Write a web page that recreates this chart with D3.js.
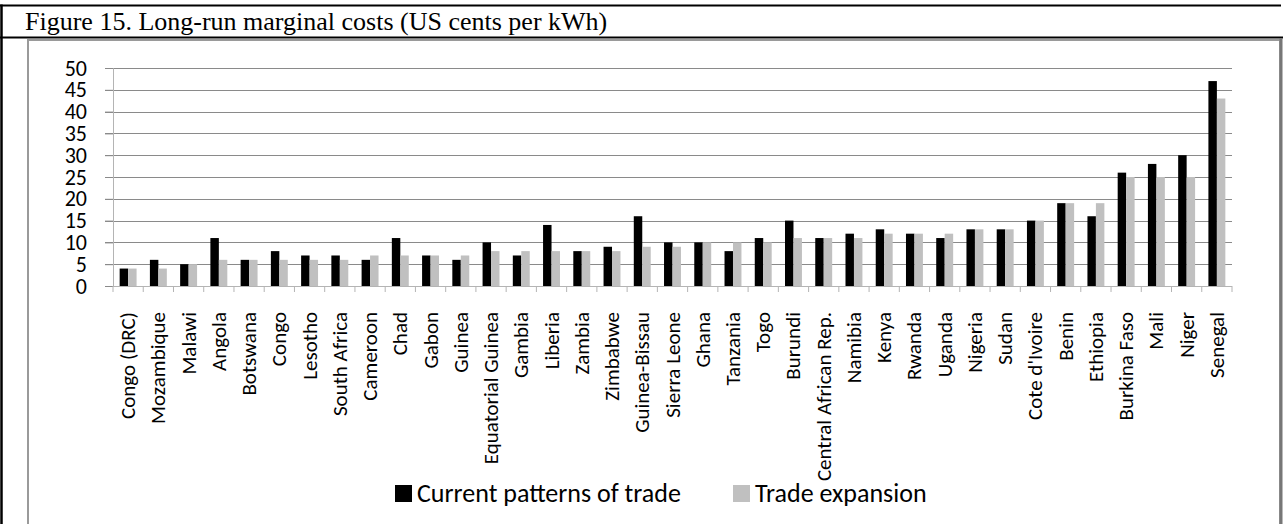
<!DOCTYPE html>
<html>
<head>
<meta charset="utf-8">
<script src="https://cdn.jsdelivr.net/npm/d3@7"></script>
<style>
  html, body { margin: 0; padding: 0; background: #fff; }
  svg { display: block; }
</style>
</head>
<body>
<div id="chart"></div>
<script>
const countries = ["Congo (DRC)", "Mozambique", "Malawi", "Angola", "Botswana", "Congo", "Lesotho",
  "South Africa", "Cameroon", "Chad", "Gabon", "Guinea", "Equatorial Guinea", "Gambia", "Liberia",
  "Zambia", "Zimbabwe", "Guinea-Bissau", "Sierra Leone", "Ghana", "Tanzania", "Togo", "Burundi",
  "Central African Rep.", "Namibia", "Kenya", "Rwanda", "Uganda", "Nigeria", "Sudan", "Cote d'Ivoire",
  "Benin", "Ethiopia", "Burkina Faso", "Mali", "Niger", "Senegal"];
const currentTrade = [4, 6, 5, 11, 6, 8, 7, 7, 6, 11, 7, 6, 10, 7, 14, 8, 9, 16, 10, 10, 8, 11, 15,
  11, 12, 13, 12, 11, 13, 13, 15, 19, 16, 26, 28, 30, 47];
const tradeExpansion = [4, 4, 5, 6, 6, 6, 6, 6, 7, 7, 7, 7, 8, 8, 8, 8, 8, 9, 9, 10, 10, 10, 11,
  11, 11, 12, 12, 12, 13, 13, 15, 19, 19, 25, 25, 25, 43];
const seriesNames = ["Current patterns of trade", "Trade expansion"];
const yTicks = [0, 5, 10, 15, 20, 25, 30, 35, 40, 45, 50];

const W = 1286, H = 524;
const colors = ["#000000", "#c0c0c0"];
const calibri = "Carlito, Calibri, Lato, sans-serif";

const svg = d3.select("#chart").append("svg").attr("width", W).attr("height", H);

// table frame + title row
svg.append("line").attr("x1", 1.5).attr("x2", 1.5).attr("y1", 4.5).attr("y2", H).attr("stroke", "#000").attr("stroke-width", 2.5);
svg.append("line").attr("x1", 0).attr("x2", 1281).attr("y1", 5.5).attr("y2", 5.5).attr("stroke", "#000").attr("stroke-width", 2);
svg.append("line").attr("x1", 0).attr("x2", 1283).attr("y1", 37.5).attr("y2", 37.5).attr("stroke", "#000").attr("stroke-width", 2);
svg.append("text").attr("x", 25).attr("y", 30)
  .style("font-family", "'Liberation Serif', 'Times New Roman', serif").style("font-size", "26px")
  .text("Figure 15. Long-run marginal costs (US cents per kWh)");

// chart area frame
svg.append("rect").attr("x", 28).attr("y", 40).attr("width", 1252).attr("height", 500)
  .attr("fill", "none").attr("stroke", "#9a9a9a").attr("stroke-width", 2);
svg.append("line").attr("x1", 1281).attr("x2", 1281).attr("y1", 38).attr("y2", H).attr("stroke", "#777").attr("stroke-width", 3);

const margin = { left: 113, right: 1232, top: 68, bottom: 286 };

const x = d3.scaleBand().domain(countries).range([margin.left, margin.right]).paddingInner(0.44).paddingOuter(0.22);
const xFull = d3.scaleBand().domain(countries).range([margin.left, margin.right]);
const xSub = d3.scaleBand().domain(seriesNames).range([0, x.bandwidth()]);
const y = d3.scaleLinear().domain([0, 50]).range([margin.bottom, margin.top]);

// gridlines
svg.append("g").selectAll("line").data(yTicks.slice(1)).join("line")
  .attr("x1", margin.left - 8).attr("x2", margin.right)
  .attr("y1", d => Math.round(y(d)) + 0.5).attr("y2", d => Math.round(y(d)) + 0.5)
  .attr("stroke", "#8a8a8a").attr("stroke-width", 1);

// y axis
const yAxis = svg.append("g").attr("transform", `translate(${margin.left},0)`)
  .call(d3.axisLeft(y).tickValues(yTicks).tickSize(8).tickPadding(18));
yAxis.select(".domain").attr("stroke", "#b4b4b4");
yAxis.selectAll(".tick line").attr("stroke", "#8a8a8a");
yAxis.selectAll(".tick text").style("font-family", calibri).style("font-size", "22px").attr("fill", "#000");

// bars
const series = [currentTrade, tradeExpansion];
series.forEach((vals, si) => {
  svg.append("g").selectAll("rect").data(countries).join("rect")
    .attr("x", d => x(d) + xSub(seriesNames[si]))
    .attr("width", xSub.bandwidth())
    .attr("y", (d, i) => y(vals[i]))
    .attr("height", (d, i) => y(0) - y(vals[i]))
    .attr("fill", colors[si]);
});

// x axis
const xAxis = svg.append("g").attr("transform", `translate(0,${margin.bottom})`);
xAxis.append("line").attr("x1", margin.left).attr("x2", margin.right).attr("y1", 0.5).attr("y2", 0.5).attr("stroke", "#b4b4b4");
xAxis.selectAll("line.tk").data(d3.range(countries.length + 1)).join("line")
  .attr("class", "tk")
  .attr("x1", i => (i < countries.length ? xFull(countries[i]) : margin.right))
  .attr("x2", i => (i < countries.length ? xFull(countries[i]) : margin.right))
  .attr("y1", 0).attr("y2", 6).attr("stroke", "#b4b4b4");
xAxis.selectAll("text").data(countries).join("text")
  .attr("transform", d => `translate(${xFull(d) + xFull.bandwidth() / 2 + 7},26) rotate(-90)`)
  .attr("text-anchor", "end")
  .style("font-family", calibri).style("font-size", "21px")
  .text(d => d);

// legend
const legend = svg.append("g").attr("transform", "translate(395,485)");
const legendX = [0, 338];
seriesNames.forEach((name, i) => {
  legend.append("rect").attr("x", legendX[i]).attr("y", 0).attr("width", 17).attr("height", 17).attr("fill", colors[i]);
  legend.append("text").attr("x", legendX[i] + 22).attr("y", 17)
    .style("font-family", calibri).style("font-size", "26px").text(name);
});
</script>
</body>
</html>
